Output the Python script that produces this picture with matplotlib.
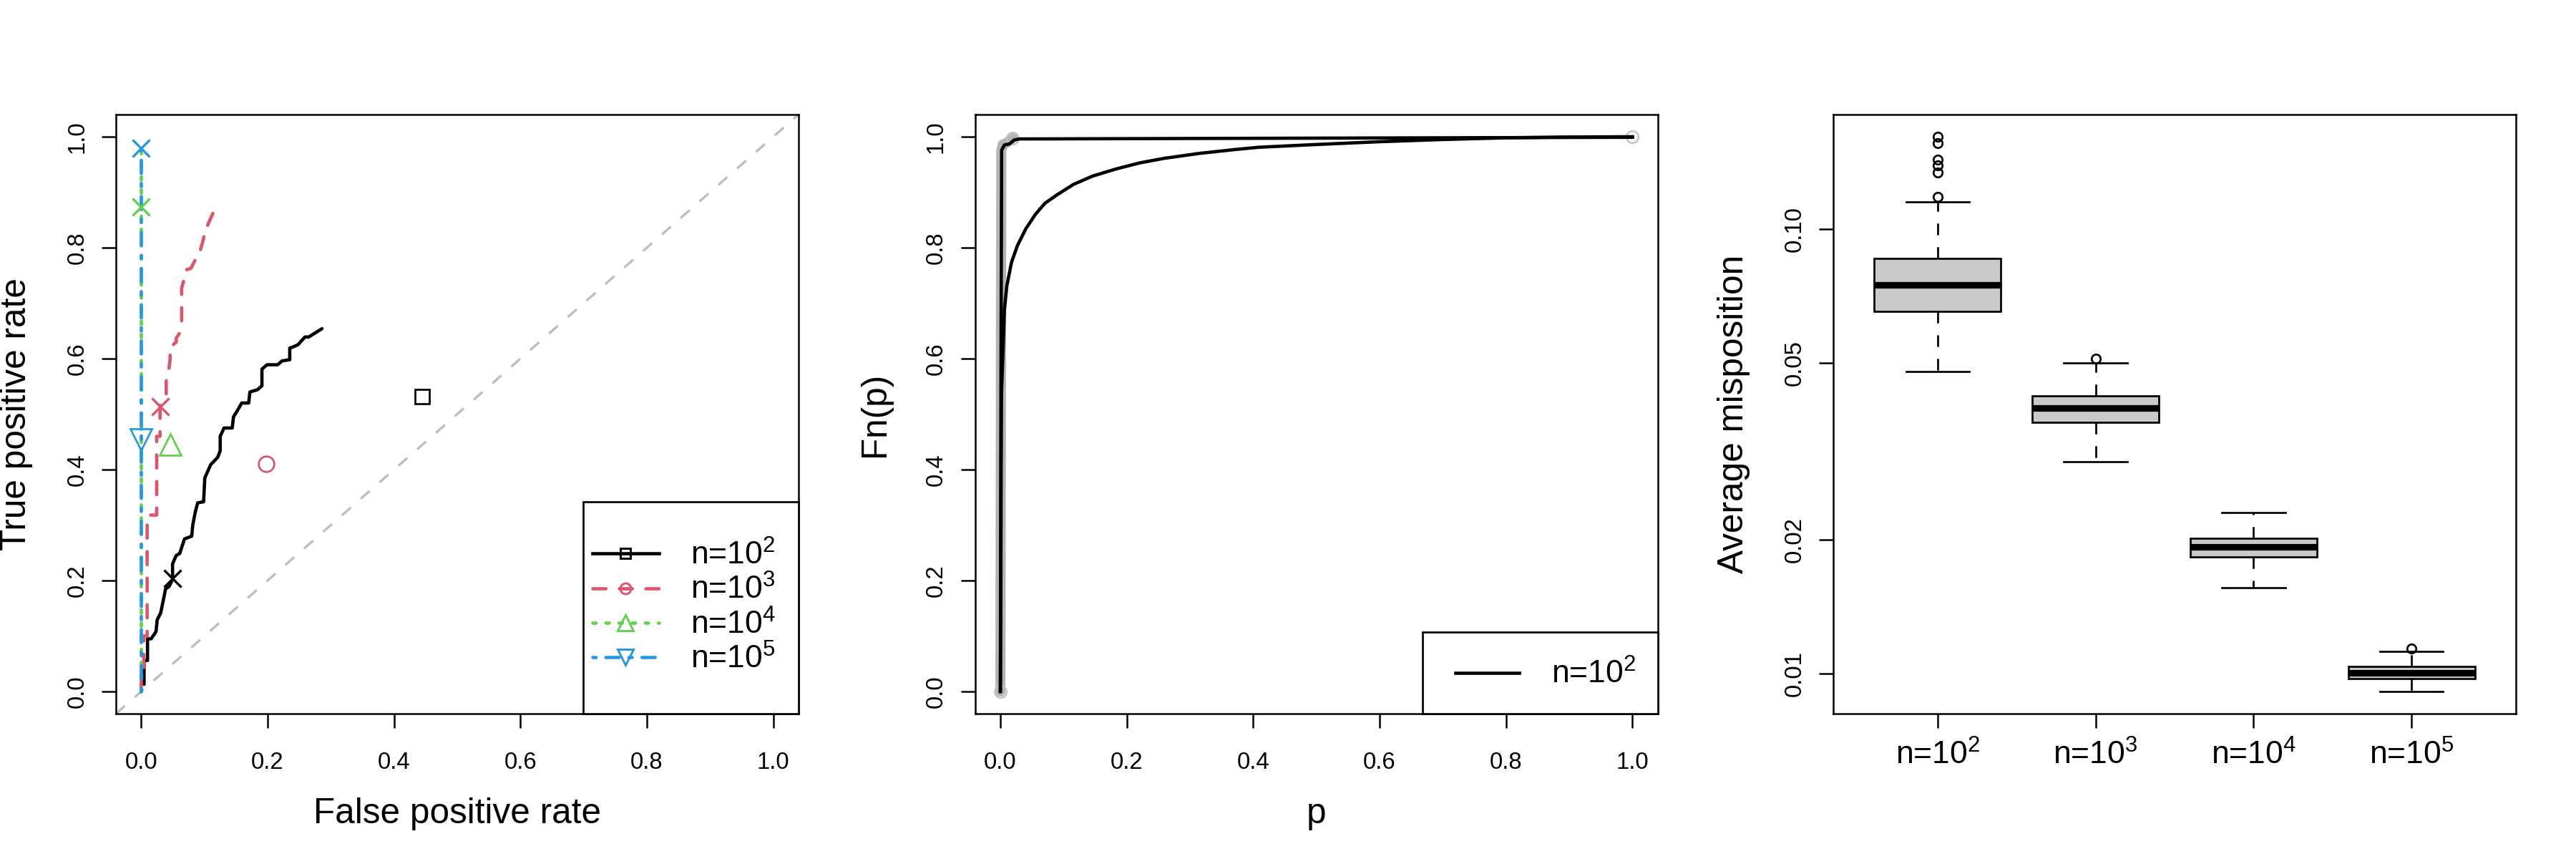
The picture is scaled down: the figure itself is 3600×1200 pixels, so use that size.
import matplotlib
matplotlib.use('Agg')
import matplotlib.pyplot as plt
from matplotlib.lines import Line2D
from matplotlib.patches import Rectangle
from matplotlib.ticker import FormatStrFormatter, NullLocator
import numpy as np

plt.rcParams['font.family'] = ['Liberation Sans', 'DejaVu Sans']
plt.rcParams['mathtext.fontset'] = 'custom'
plt.rcParams['mathtext.rm'] = 'Liberation Sans'
plt.rcParams['mathtext.it'] = 'Liberation Sans:italic'
plt.rcParams['mathtext.bf'] = 'Liberation Sans:bold'
plt.rcParams['lines.scale_dashes'] = False

# ---------------- data ----------------
n_labels = [r'n=$\mathregular{10^{2}}$', r'n=$\mathregular{10^{3}}$',
            r'n=$\mathregular{10^{4}}$', r'n=$\mathregular{10^{5}}$']

# ROC curves (false positive rate, true positive rate)
roc_fpr_1e2 = [0.0045, 0.0045, 0.010, 0.010, 0.0158, 0.0234, 0.0253, 0.0309, 0.0347, 0.0385,
               0.044, 0.0496, 0.0496, 0.0553, 0.061, 0.0685, 0.0799, 0.0817, 0.0855, 0.0893,
               0.0987, 0.1006, 0.110, 0.121, 0.125, 0.125, 0.131, 0.144, 0.146, 0.152,
               0.159, 0.170, 0.172, 0.184, 0.191, 0.191, 0.199, 0.216, 0.223, 0.235,
               0.235, 0.240, 0.248, 0.259, 0.265, 0.286]
roc_tpr_1e2 = [0.013, 0.056, 0.056, 0.095, 0.095, 0.108, 0.129, 0.142, 0.163, 0.185,
               0.189, 0.202, 0.230, 0.245, 0.249, 0.275, 0.280, 0.301, 0.323, 0.340,
               0.342, 0.385, 0.409, 0.422, 0.434, 0.460, 0.475, 0.475, 0.495, 0.506,
               0.520, 0.520, 0.540, 0.544, 0.551, 0.581, 0.589, 0.589, 0.596, 0.598,
               0.619, 0.621, 0.625, 0.639, 0.639, 0.654]
roc_fpr_1e3 = [0.0, 0.0, 0.004, 0.004, 0.0094, 0.0094, 0.0245, 0.0245, 0.0298, 0.0298,
               0.0396, 0.0396, 0.044, 0.0457, 0.0457, 0.0495, 0.0555, 0.0555, 0.064, 0.064,
               0.0686, 0.0686, 0.0788, 0.0864, 0.094, 0.094, 0.099, 0.099, 0.1045, 0.1045,
               0.1135]
roc_tpr_1e3 = [0.0, 0.03, 0.03, 0.10, 0.10, 0.318, 0.318, 0.46, 0.46, 0.52,
               0.535, 0.576, 0.583, 0.598, 0.624, 0.624, 0.630, 0.637, 0.652, 0.727,
               0.746, 0.759, 0.763, 0.780, 0.788, 0.797, 0.818, 0.829, 0.833, 0.839,
               0.862]
roc_fpr_1e4 = [0.0, 0.0]
roc_tpr_1e4 = [0.0, 0.975]
roc_fpr_1e5 = [0.0, 0.0]
roc_tpr_1e5 = [0.0, 0.98]

# chosen cut-off on each curve (x marks)
cut_fpr = [0.05, 0.03, 0.0, 0.0]
cut_tpr = [0.204, 0.514, 0.873, 0.979]
# competing method (open symbols)
alt_fpr = [0.445, 0.198, 0.046, 0.0]
alt_tpr = [0.531, 0.410, 0.445, 0.454]

# empirical cdf of p-values, n=10^2
ecdf_step_p = [0.0, 0.0008, 0.002, 0.0064, 0.014, 0.0177, 0.0215, 0.03, 1.0]
ecdf_step_F = [0.0, 0.50, 0.976, 0.985, 0.987, 0.990, 0.994, 0.996, 0.999]
ecdf_band_p = [0.0, 0.0008, 0.0015, 0.004, 0.010, 0.0195]
ecdf_band_F = [0.0, 0.50, 0.975, 0.986, 0.989, 0.998]
ecdf_end_p = [0.0, 0.0195, 1.0]
ecdf_end_F = [0.0, 0.998, 1.0]
ecdf_smooth_p = [0.0, 0.0008, 0.0012, 0.0018, 0.0045, 0.0064, 0.0102, 0.0177, 0.0271, 0.0402,
                 0.0554, 0.0704, 0.0893, 0.1156, 0.1458, 0.1834, 0.221, 0.259, 0.315, 0.372,
                 0.409, 0.5, 0.6, 0.7, 0.8, 0.9, 1.0]
ecdf_smooth_F = [0.0, 0.20, 0.40, 0.538, 0.624, 0.688, 0.731, 0.774, 0.804, 0.834,
                 0.860, 0.880, 0.895, 0.914, 0.929, 0.942, 0.953, 0.961, 0.970, 0.977,
                 0.981, 0.986, 0.991, 0.995, 0.998, 0.9995, 1.0]

# average misposition boxplots
box_q1 = [0.0653, 0.0368, 0.0183, 0.00976]
box_med = [0.0748, 0.0395, 0.0193, 0.01007]
box_q3 = [0.0859, 0.0422, 0.0202, 0.01038]
box_lo = [0.0478, 0.0300, 0.0156, 0.00913]
box_hi = [0.1150, 0.0500, 0.0230, 0.01124]
box_out = [[0.1178, 0.1338, 0.1389, 0.1428, 0.1555, 0.161], [0.0510], [], [0.01141]]

# ---------------- style ----------------
cols = ['black', '#DF536B', '#61D04F', '#2297E6']
dashes = [None, (4.4, 4.5), (1.1, 3.3), (1.1, 3.3, 4.4, 3.3)]
alt_marker = ['s', 'o', '^', 'v']
alt_ms = [4.9, 5.2, 7.0, 7.0]
leg_ms = [3.3, 3.6, 5.2, 5.2]
lw_roc = 1.1
fs_tick = 7.9
fs_lab = 11.9
fs_leg = 10.7


def style_axes(ax):
    for s in ax.spines.values():
        s.set_linewidth(0.6)
    ax.tick_params(direction='out', length=4.8, width=0.6, labelsize=fs_tick)
    ax.tick_params(axis='x', pad=8.0)
    ax.tick_params(axis='y', pad=4.5, labelrotation=90)
    for t in ax.get_yticklabels():
        t.set_va('center')


def make_line(ax, x, y, i, **kw):
    ln, = ax.plot(x, y, color=cols[i], lw=lw_roc, solid_capstyle='round',
                  dash_capstyle='round', **kw)
    if dashes[i] is not None:
        ln.set_dashes(dashes[i])
    return ln


fig = plt.figure(figsize=(12, 4), dpi=300)
W, H = 3600.0, 1200.0
ax1 = fig.add_axes([162 / W, 1 - 997 / H, 954 / W, 837 / H])
ax2 = fig.add_axes([1362.7 / W, 1 - 997 / H, 954 / W, 837 / H])
ax3 = fig.add_axes([2562 / W, 1 - 997 / H, 954 / W, 837 / H])

# ---------------- panel 1: ROC ----------------
ax1.axline((0, 0), slope=1, color='#BEBEBE', lw=0.8, dashes=(4.0, 4.4))
roc_x = [roc_fpr_1e2, roc_fpr_1e3, roc_fpr_1e4, roc_fpr_1e5]
roc_y = [roc_tpr_1e2, roc_tpr_1e3, roc_tpr_1e4, roc_tpr_1e5]
for i in [0, 1, 2, 3]:
    make_line(ax1, roc_x[i], roc_y[i], i)
for i in range(4):
    ax1.plot(cut_fpr[i], cut_tpr[i], marker='x', ms=5.8, mew=0.8, color=cols[i], ls='none', zorder=4)
    ax1.plot(alt_fpr[i], alt_tpr[i], marker=alt_marker[i], ms=alt_ms[i], mfc='none',
             mec=cols[i], mew=0.65, ls='none', zorder=4)

ax1.set_xlim(-0.04, 1.04)
ax1.set_ylim(-0.04, 1.04)
ax1.set_xticks(np.arange(0, 1.01, 0.2))
ax1.set_yticks(np.arange(0, 1.01, 0.2))
ax1.xaxis.set_major_formatter(FormatStrFormatter('%.1f'))
ax1.yaxis.set_major_formatter(FormatStrFormatter('%.1f'))
ax1.set_xlabel('False positive rate', fontsize=fs_lab, va='center')
ax1.set_ylabel('True positive rate', fontsize=fs_lab, va='center')
ax1.xaxis.set_label_coords(0.5, -0.167)
ax1.yaxis.set_label_coords(-0.146, 0.5)
style_axes(ax1)

ax1.add_patch(Rectangle((0.685, 0.0), 0.315, 0.354, transform=ax1.transAxes, facecolor='white',
                        edgecolor='black', lw=0.65, zorder=5, clip_on=False))
handles = []
for i in range(4):
    h = Line2D([], [], color=cols[i], lw=lw_roc, marker=alt_marker[i], ms=leg_ms[i], mfc='none',
               mec=cols[i], mew=0.7, dash_capstyle='round')
    if dashes[i] is not None:
        h.set_dashes(dashes[i])
    handles.append(h)
leg1 = ax1.legend(handles, n_labels, loc='center left', bbox_to_anchor=(0.698, 0.177),
                  frameon=False, borderpad=0, borderaxespad=0, handlelength=2.08,
                  handletextpad=0.99, labelspacing=0.12, fontsize=fs_leg)
leg1.set_zorder(6)

# ---------------- panel 2: ECDF ----------------
ax2.plot(ecdf_band_p, ecdf_band_F, color='#B4B4B4', lw=3.4, solid_capstyle='round', zorder=2)
ax2.plot(ecdf_end_p, ecdf_end_F, ls='none', marker='o', ms=4.0, mfc='none', mec='#C4C4C4',
         mew=0.6, zorder=2)
ax2.plot(ecdf_step_p, ecdf_step_F, color='black', lw=1.1, zorder=3)
ax2.plot(ecdf_smooth_p, ecdf_smooth_F, color='black', lw=1.1, zorder=3)
ax2.set_xlim(-0.04, 1.04)
ax2.set_ylim(-0.04, 1.04)
ax2.set_xticks(np.arange(0, 1.01, 0.2))
ax2.set_yticks(np.arange(0, 1.01, 0.2))
ax2.xaxis.set_major_formatter(FormatStrFormatter('%.1f'))
ax2.yaxis.set_major_formatter(FormatStrFormatter('%.1f'))
ax2.set_xlabel('p', fontsize=fs_lab, va='center')
ax2.set_ylabel('Fn(p)', fontsize=fs_lab, va='center')
ax2.xaxis.set_label_coords(0.5, -0.167)
ax2.yaxis.set_label_coords(-0.146, 0.5)
style_axes(ax2)

ax2.add_patch(Rectangle((0.655, 0.0), 0.345, 0.136, transform=ax2.transAxes, facecolor='white',
                        edgecolor='black', lw=0.65, zorder=5, clip_on=False))
leg2 = ax2.legend([Line2D([], [], color='black', lw=1.1)], n_labels[:1], loc='center left',
                  bbox_to_anchor=(0.704, 0.065), frameon=False, borderpad=0, borderaxespad=0,
                  handlelength=1.99, handletextpad=1.0, fontsize=fs_leg)
leg2.set_zorder(6)

# ---------------- panel 3: boxplots ----------------
stats = []
for k in range(4):
    stats.append(dict(med=box_med[k], q1=box_q1[k], q3=box_q3[k], whislo=box_lo[k],
                      whishi=box_hi[k], fliers=box_out[k]))
pos = [1, 2, 3, 4]
ax3.bxp(stats, positions=pos, widths=0.8, capwidths=0.4, patch_artist=True,
        boxprops=dict(facecolor='#C9C9C9', edgecolor='black', linewidth=0.65),
        medianprops=dict(color='black', linewidth=2.2, solid_capstyle='butt'),
        whiskerprops=dict(color='black', linewidth=0.65, linestyle=(0, (3.9, 4.0))),
        capprops=dict(color='black', linewidth=0.65),
        flierprops=dict(marker='o', mfc='none', mec='black', ms=3.0, mew=0.65))
ax3.set_yscale('log')
lo = np.log10(min(box_lo))
hi = np.log10(max(max(box_hi), max(max(o) for o in box_out if o)))
pad = 0.04 * (hi - lo)
ax3.set_ylim(10 ** (lo - pad), 10 ** (hi + pad))
ax3.set_xlim(0.5 - 0.16, 4.5 + 0.16)
ax3.set_yticks([0.01, 0.02, 0.05, 0.10])
ax3.set_yticklabels(['0.01', '0.02', '0.05', '0.10'])
ax3.yaxis.set_minor_locator(NullLocator())
ax3.set_xticks(pos)
ax3.set_xticklabels(n_labels)
ax3.set_ylabel('Average misposition', fontsize=fs_lab, va='center')
ax3.yaxis.set_label_coords(-0.146, 0.5)
style_axes(ax3)
ax3.tick_params(axis='x', labelsize=fs_leg, pad=4.0)

fig.savefig('out.png', dpi=300)
